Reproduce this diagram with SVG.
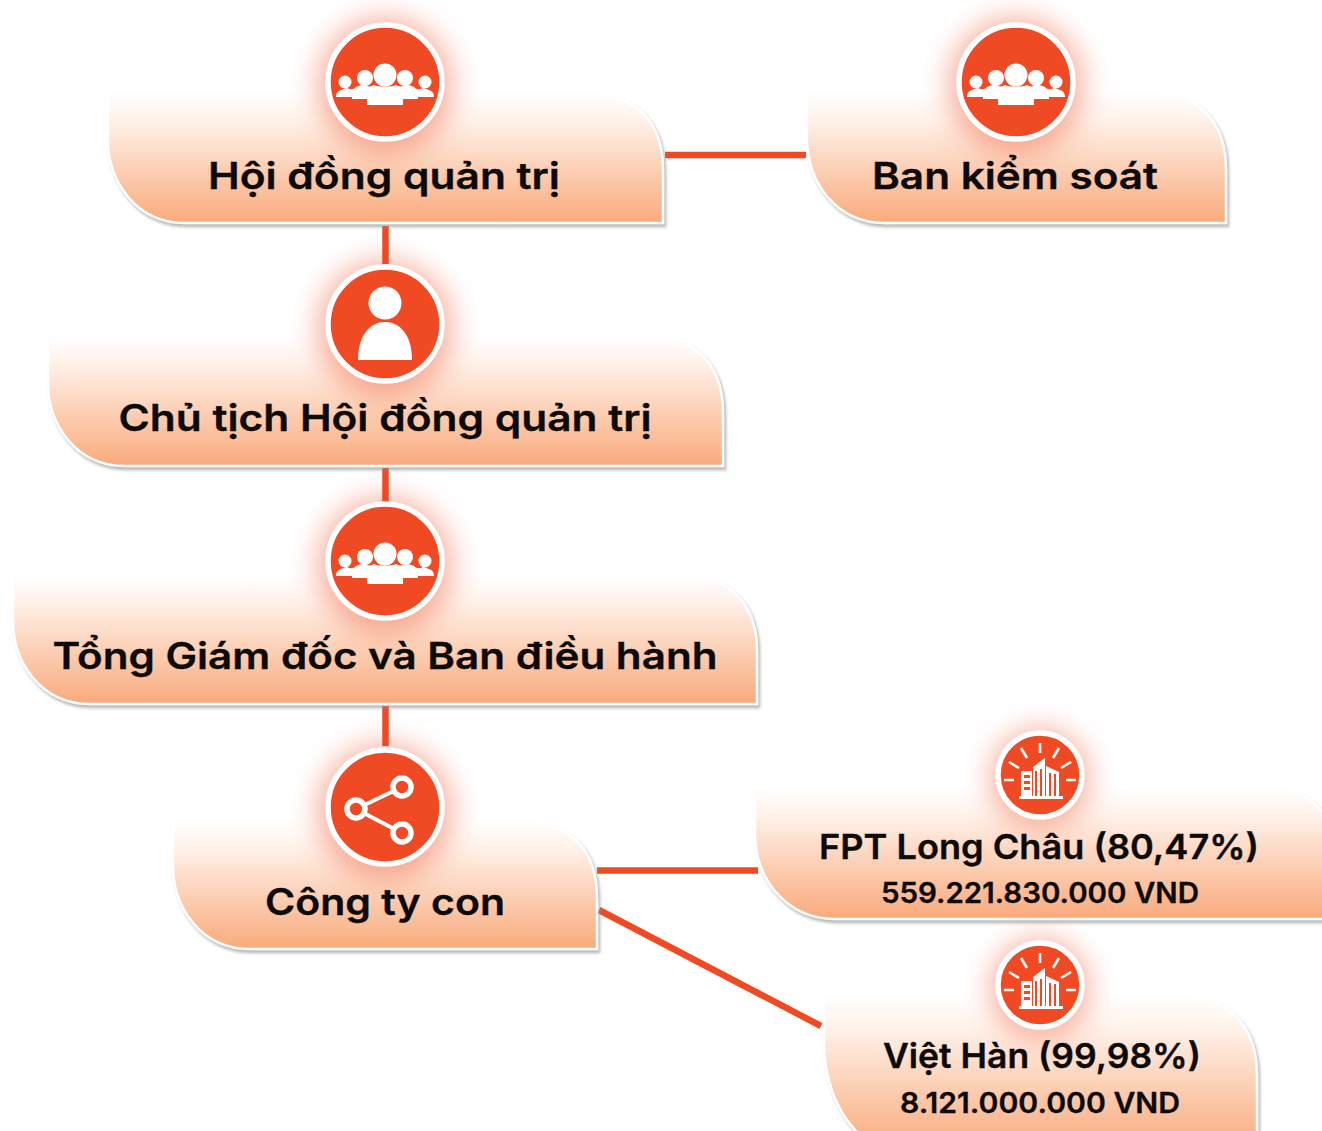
<svg xmlns="http://www.w3.org/2000/svg" width="1322" height="1131" viewBox="0 0 1322 1131">
<style>
text{font-family:"Inter","Liberation Sans",sans-serif;font-weight:600;fill:#0d0a08;text-anchor:middle;stroke:#0d0a08;stroke-width:.35}
.t{font-size:37px}.m{font-size:34px}.s{font-size:28px}
.conn{stroke:#ef4a24;stroke-width:6.5;fill:none}
.box{fill:url(#g);stroke:#fff;stroke-width:2.5;filter:url(#sh)}
.halo{fill:#ef4a24;opacity:.42;filter:url(#b)}
.ring{fill:#ef4a24;stroke:#fff;stroke-width:5.5}
.ic{fill:#fff}
.icl{stroke:#fff;fill:none}
</style>
<defs>
<linearGradient id="g" x1="0" y1="0" x2="0" y2="1"><stop offset="0" stop-color="#fff"/><stop offset=".2" stop-color="#fff3ec"/><stop offset="1" stop-color="#f9aa7b"/></linearGradient>
<filter id="sh" x="-5%" y="-10%" width="110%" height="125%"><feDropShadow dx="2" dy="3" stdDeviation="1.5" flood-color="#8a8a8a" flood-opacity=".6"/></filter>
<filter id="b" x="-50%" y="-50%" width="200%" height="200%"><feGaussianBlur stdDeviation="14"/></filter>
<g id="people">
<circle cx="0" cy="-9" r="11.5" class="ic"/>
<circle cx="-20" cy="-6" r="8" class="ic"/><circle cx="20" cy="-6" r="8" class="ic"/>
<circle cx="-40" cy="-2" r="6.5" class="ic"/><circle cx="40" cy="-2" r="6.5" class="ic"/>
<path class="ic" d="M-49 13C-49 7-45 6-38 4-34 6-31 5-30 4-29 2-25 2-21 0-18 3-14 3-11 1-7 3 7 3 11 1 14 3 18 3 21 0 25 2 29 2 30 4 31 5 34 6 38 4 45 6 49 7 49 13H33V15H18V21H-18V15H-33V13Z"/>
</g>
<g id="bld">
<path class="ic" d="M-21 21H23V24H-21Z"/>
<path class="ic" fill-rule="evenodd" d="M-19 -4H-8V21H-19ZM-16 0V3H-10V0ZM-16 6V9H-10V6ZM-16 12V15H-10V12Z"/>
<path class="ic" d="M-7 -8 5 -17V21H2V-6H0V21H-3V-4H-5V21H-7Z"/>
<path class="ic" d="M6 -9 19 -3V21H16V-1H14V21H11V-2H9V21H6Z"/>
<path class="icl" stroke-width="2.6" d="M0-32V-22M-19-27-13-17M19-27 13-17M-31-13-21-7M31-13 21-7M-36 5H-26M36 5H26"/>
</g>
</defs>
<g id="connectors" class="conn">
<path d="M665 155H806"/><path d="M385.500 226V264"/><path d="M385.500 468V506"/><path d="M385.500 706V746"/>
<path d="M597 870.500H758"/><path d="M599 910 821 1026"/>
</g>
<g id="hdqt">
<path class="box" d="M108 91H590Q663 100 663 170V223H185C135 223 108 180 108 140Z"/>
<circle class="halo" cx="385" cy="85" r="68"/><circle class="ring" cx="385" cy="82" r="57"/>
<use href="#people" x="385" y="84"/>
<text class="t" x="384" y="189" textLength="352" lengthAdjust="spacingAndGlyphs">Hội đồng quản trị</text>
</g>
<g id="bks">
<path class="box" d="M807 91H1155Q1226 100 1226 170V223H885C835 223 807 180 807 140Z"/>
<circle class="halo" cx="1016" cy="85" r="68"/><circle class="ring" cx="1016" cy="82" r="57"/>
<use href="#people" x="1016" y="84"/>
<text class="t" x="1015" y="189" textLength="286" lengthAdjust="spacingAndGlyphs">Ban kiểm soát</text>
</g>
<g id="chutich">
<path class="box" d="M48 334H650Q723 343 723 413V466H125C75 466 48 423 48 383Z"/>
<circle class="halo" cx="385" cy="328" r="68"/><circle class="ring" cx="385" cy="324" r="57"/>
<circle class="ic" cx="385" cy="303" r="16.500"/>
<path class="ic" d="M358 360C358 335 370 322 385 322S412 335 412 360Z"/>
<text class="t" x="385" y="431" textLength="533" lengthAdjust="spacingAndGlyphs">Chủ tịch Hội đồng quản trị</text>
</g>
<g id="tgd">
<path class="box" d="M13 573H685Q757 582 757 652V704H90C40 704 13 661 13 621Z"/>
<circle class="halo" cx="385" cy="565" r="68"/><circle class="ring" cx="385" cy="561" r="57"/>
<use href="#people" x="385" y="563"/>
<text class="t" x="385" y="669" textLength="665" lengthAdjust="spacingAndGlyphs">Tổng Giám đốc và Ban điều hành</text>
</g>
<g id="congtycon">
<path class="box" d="M173 819H525Q597 828 597 898V949H250C200 949 173 906 173 866Z"/>
<circle class="halo" cx="385" cy="811" r="68"/><circle class="ring" cx="385" cy="807" r="57"/>
<path class="icl" stroke-width="4" d="M356 809 402 787M356 809 402 833"/>
<g fill="#ef4a24" stroke="#fff" stroke-width="5.500"><circle cx="356" cy="809" r="9"/><circle cx="402" cy="787" r="9"/><circle cx="402" cy="833" r="9"/></g>
<text class="t" x="385" y="915" textLength="240" lengthAdjust="spacingAndGlyphs">Công ty con</text>
</g>
<g id="fpt">
<path class="box" d="M755 786H1275Q1322 795 1330 830V919H835C785 919 755 876 755 836Z"/>
<circle class="halo" cx="1040" cy="778" r="50"/><circle class="ring" cx="1040" cy="775" r="42"/>
<use href="#bld" x="1040" y="775"/>
<text class="m" x="1039" y="859" textLength="440" lengthAdjust="spacingAndGlyphs">FPT Long Châu (80,47%)</text>
<text class="s" x="1040" y="903" textLength="318" lengthAdjust="spacingAndGlyphs">559.221.830.000 VND</text>
</g>
<g id="viethan">
<path class="box" d="M824 994H1185Q1257 1005 1257 1075V1150H900C850 1150 824 1090 824 1045Z"/>
<circle class="halo" cx="1040" cy="988" r="50"/><circle class="ring" cx="1040" cy="985" r="42"/>
<use href="#bld" x="1040" y="985"/>
<text class="m" x="1042" y="1068" textLength="318" lengthAdjust="spacingAndGlyphs">Việt Hàn (99,98%)</text>
<text class="s" x="1040" y="1113" textLength="280" lengthAdjust="spacingAndGlyphs">8.121.000.000 VND</text>
</g>
</svg>
